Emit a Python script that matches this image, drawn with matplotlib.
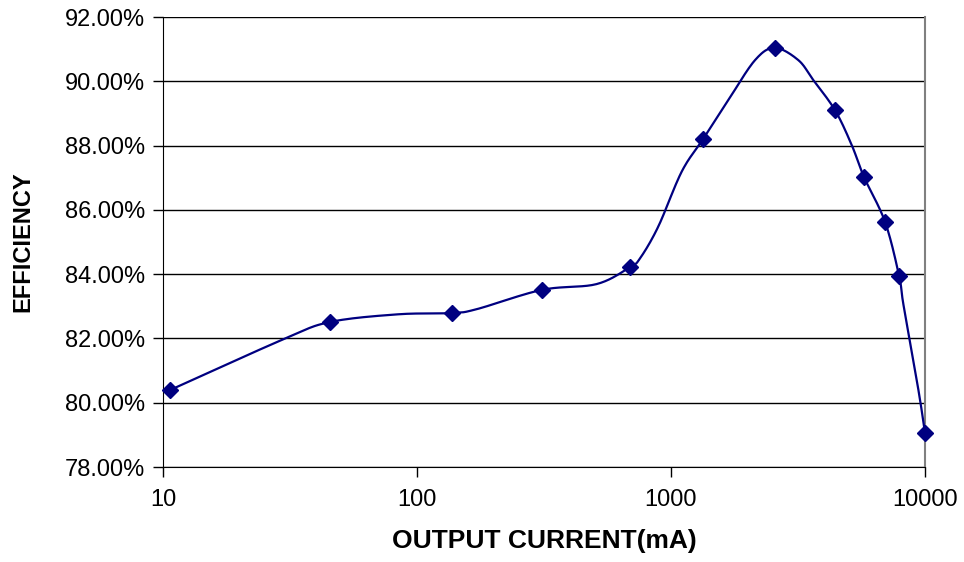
import numpy as np
import matplotlib
matplotlib.use("Agg")
import matplotlib.pyplot as plt
from matplotlib.ticker import FixedLocator, NullLocator, FuncFormatter

# Measured points (markers)
current_ma = [10.7, 45.4, 137, 310, 690, 1337, 2563, 4424, 5754, 6966, 7910, 10000]
efficiency = [80.40, 82.51, 82.79, 83.51, 84.22, 88.20, 91.04, 89.10, 87.02, 85.62, 83.94, 79.06]

# Smoothed trend line points (incl. markers)
curve_ma = [10.7, 29.7, 45.4, 84.1, 137, 171.8, 310, 509, 690, 755, 891, 1102, 1337,
            1683, 2143, 2563, 3170, 3631, 4424, 5144, 5754, 6966, 7910, 8229, 9419, 10000]
curve_eff = [80.40, 81.97, 82.51, 82.75, 82.79, 82.91, 83.51, 83.69, 84.22, 84.49, 85.48, 87.19, 88.20,
             89.42, 90.66, 91.04, 90.66, 90.04, 89.10, 88.02, 87.02, 85.62, 83.94, 83.04, 80.40, 79.06]

y_ticks = [78, 80, 82, 84, 86, 88, 90, 92]
x_ticks = [10, 100, 1000, 10000]

def catmull_rom(xs, ys, n=20):
    P = np.column_stack([xs, ys])
    P = np.vstack([P[0] - (P[1] - P[0]), P, P[-1] + (P[-1] - P[-2])])
    out = []
    for i in range(1, len(P) - 2):
        p0, p1, p2, p3 = P[i - 1], P[i], P[i + 1], P[i + 2]
        t = np.linspace(0, 1, n, endpoint=False)[:, None]
        seg = 0.5 * ((2 * p1) + (-p0 + p2) * t + (2 * p0 - 5 * p1 + 4 * p2 - p3) * t ** 2
                     + (-p0 + 3 * p1 - 3 * p2 + p3) * t ** 3)
        out.append(seg)
    out.append(P[-2][None, :])
    out = np.vstack(out)
    return out[:, 0], out[:, 1]

font = ["Liberation Sans", "DejaVu Sans"]

fig = plt.figure(figsize=(9.64, 5.62), dpi=100)
ax = fig.add_axes([163 / 964, 1 - 467 / 562, (925 - 163) / 964, (467 - 17) / 562])

lx, ly = catmull_rom(np.log10(curve_ma), np.array(curve_eff))
ax.plot(10 ** lx, ly, color="#000080", lw=1.6, zorder=3)
ax.plot(current_ma, efficiency, linestyle="none", marker="D", markersize=8,
        color="#000080", zorder=4, clip_on=False)

ax.set_xscale("log")
ax.set_xlim(10, 10000)
ax.set_ylim(78, 92)
ax.xaxis.set_major_locator(FixedLocator(x_ticks))
ax.xaxis.set_minor_locator(NullLocator())
ax.xaxis.set_major_formatter(FuncFormatter(lambda v, p: f"{int(round(v))}"))
ax.yaxis.set_major_locator(FixedLocator(y_ticks))
ax.yaxis.set_major_formatter(FuncFormatter(lambda v, p: f"{v:.2f}%"))

ax.grid(axis="y", color="black", lw=1.0, zorder=1)
ax.set_axisbelow(True)
ax.spines["top"].set_visible(False)
ax.spines["right"].set_color("#808080")
ax.spines["right"].set_linewidth(1.5)
ax.spines["left"].set_color("black")
ax.spines["bottom"].set_color("black")

ax.tick_params(axis="y", direction="out", length=7, width=1, labelsize=17, pad=6)
ax.tick_params(axis="x", direction="out", length=7, width=1, labelsize=17, pad=9)
for lab in ax.get_yticklabels() + ax.get_xticklabels():
    lab.set_family(font)

ax.set_xlabel("OUTPUT CURRENT(mA)", fontsize=19, fontweight="bold",
              family=font, labelpad=13)
ax.set_ylabel("EFFICIENCY", fontsize=17, fontweight="bold", family=font, labelpad=22)

fig.savefig("out.png", dpi=100)
